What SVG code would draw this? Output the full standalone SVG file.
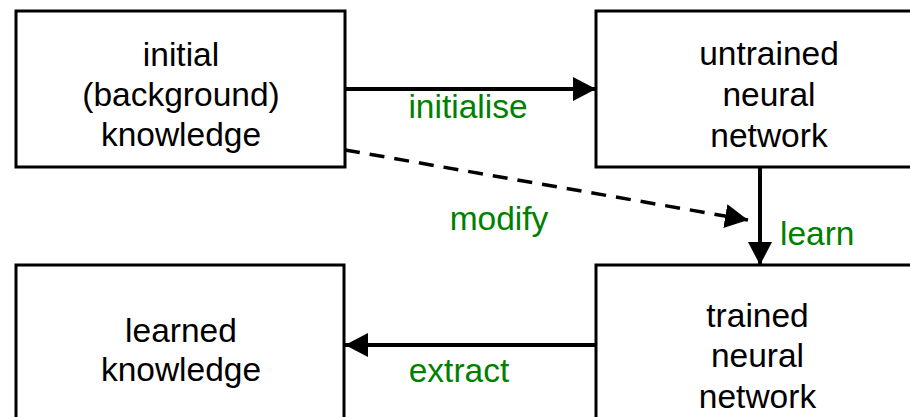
<svg xmlns="http://www.w3.org/2000/svg" width="910" height="417" viewBox="0 0 910 417">
<style>
.box{fill:#fff;stroke:#000;stroke-width:3}
.t{font-family:"Liberation Sans",Arial,sans-serif;font-size:33.5px;fill:#000;text-anchor:middle}
.lbl{font-family:"Liberation Sans",Arial,sans-serif;font-size:33.5px;fill:#008000}
.c{fill:none;stroke:#000;stroke-width:4}
.d{fill:none;stroke:#000;stroke-width:3.5;stroke-dasharray:15 10}
</style>
<defs>
<marker id="ah" viewBox="0 0 23 24" refX="23" refY="12" markerWidth="23" markerHeight="24" markerUnits="userSpaceOnUse" orient="auto">
<path d="M0,0 L23,12 L0,24 Z" fill="#000"/>
</marker>
</defs>
<rect width="910" height="417" fill="#fff"/>
<g id="node-initial">
<rect class="box" x="16" y="11" width="329" height="156"/>
<text class="t" x="181" y="66">initial</text>
<text class="t" x="181" y="106">(background)</text>
<text class="t" x="181" y="146">knowledge</text>
</g>
<g id="node-untrained">
<rect class="box" x="596" y="11" width="346" height="156"/>
<text class="t" x="769" y="65">untrained</text>
<text class="t" x="769" y="106">neural</text>
<text class="t" x="769" y="147">network</text>
</g>
<g id="node-learned">
<rect class="box" x="16" y="265" width="328" height="170"/>
<text class="t" x="181" y="342">learned</text>
<text class="t" x="181" y="381">knowledge</text>
</g>
<g id="node-trained">
<rect class="box" x="596" y="265" width="323" height="170"/>
<text class="t" x="757.5" y="327">trained</text>
<text class="t" x="757.5" y="367">neural</text>
<text class="t" x="757.5" y="408">network</text>
</g>
<g id="connectors">
<line class="c" x1="345" y1="89" x2="596" y2="89" marker-end="url(#ah)"/>
<line class="c" x1="760" y1="167" x2="760" y2="265" marker-end="url(#ah)"/>
<line class="c" x1="596" y1="345" x2="345" y2="345" marker-end="url(#ah)"/>
<line class="d" x1="345" y1="150" x2="748" y2="220" marker-end="url(#ah)"/>
<text class="lbl" x="468" y="118" text-anchor="middle">initialise</text>
<text class="lbl" x="499" y="230" text-anchor="middle">modify</text>
<text class="lbl" x="780" y="245">learn</text>
<text class="lbl" x="459" y="382" text-anchor="middle">extract</text>
</g>
</svg>
